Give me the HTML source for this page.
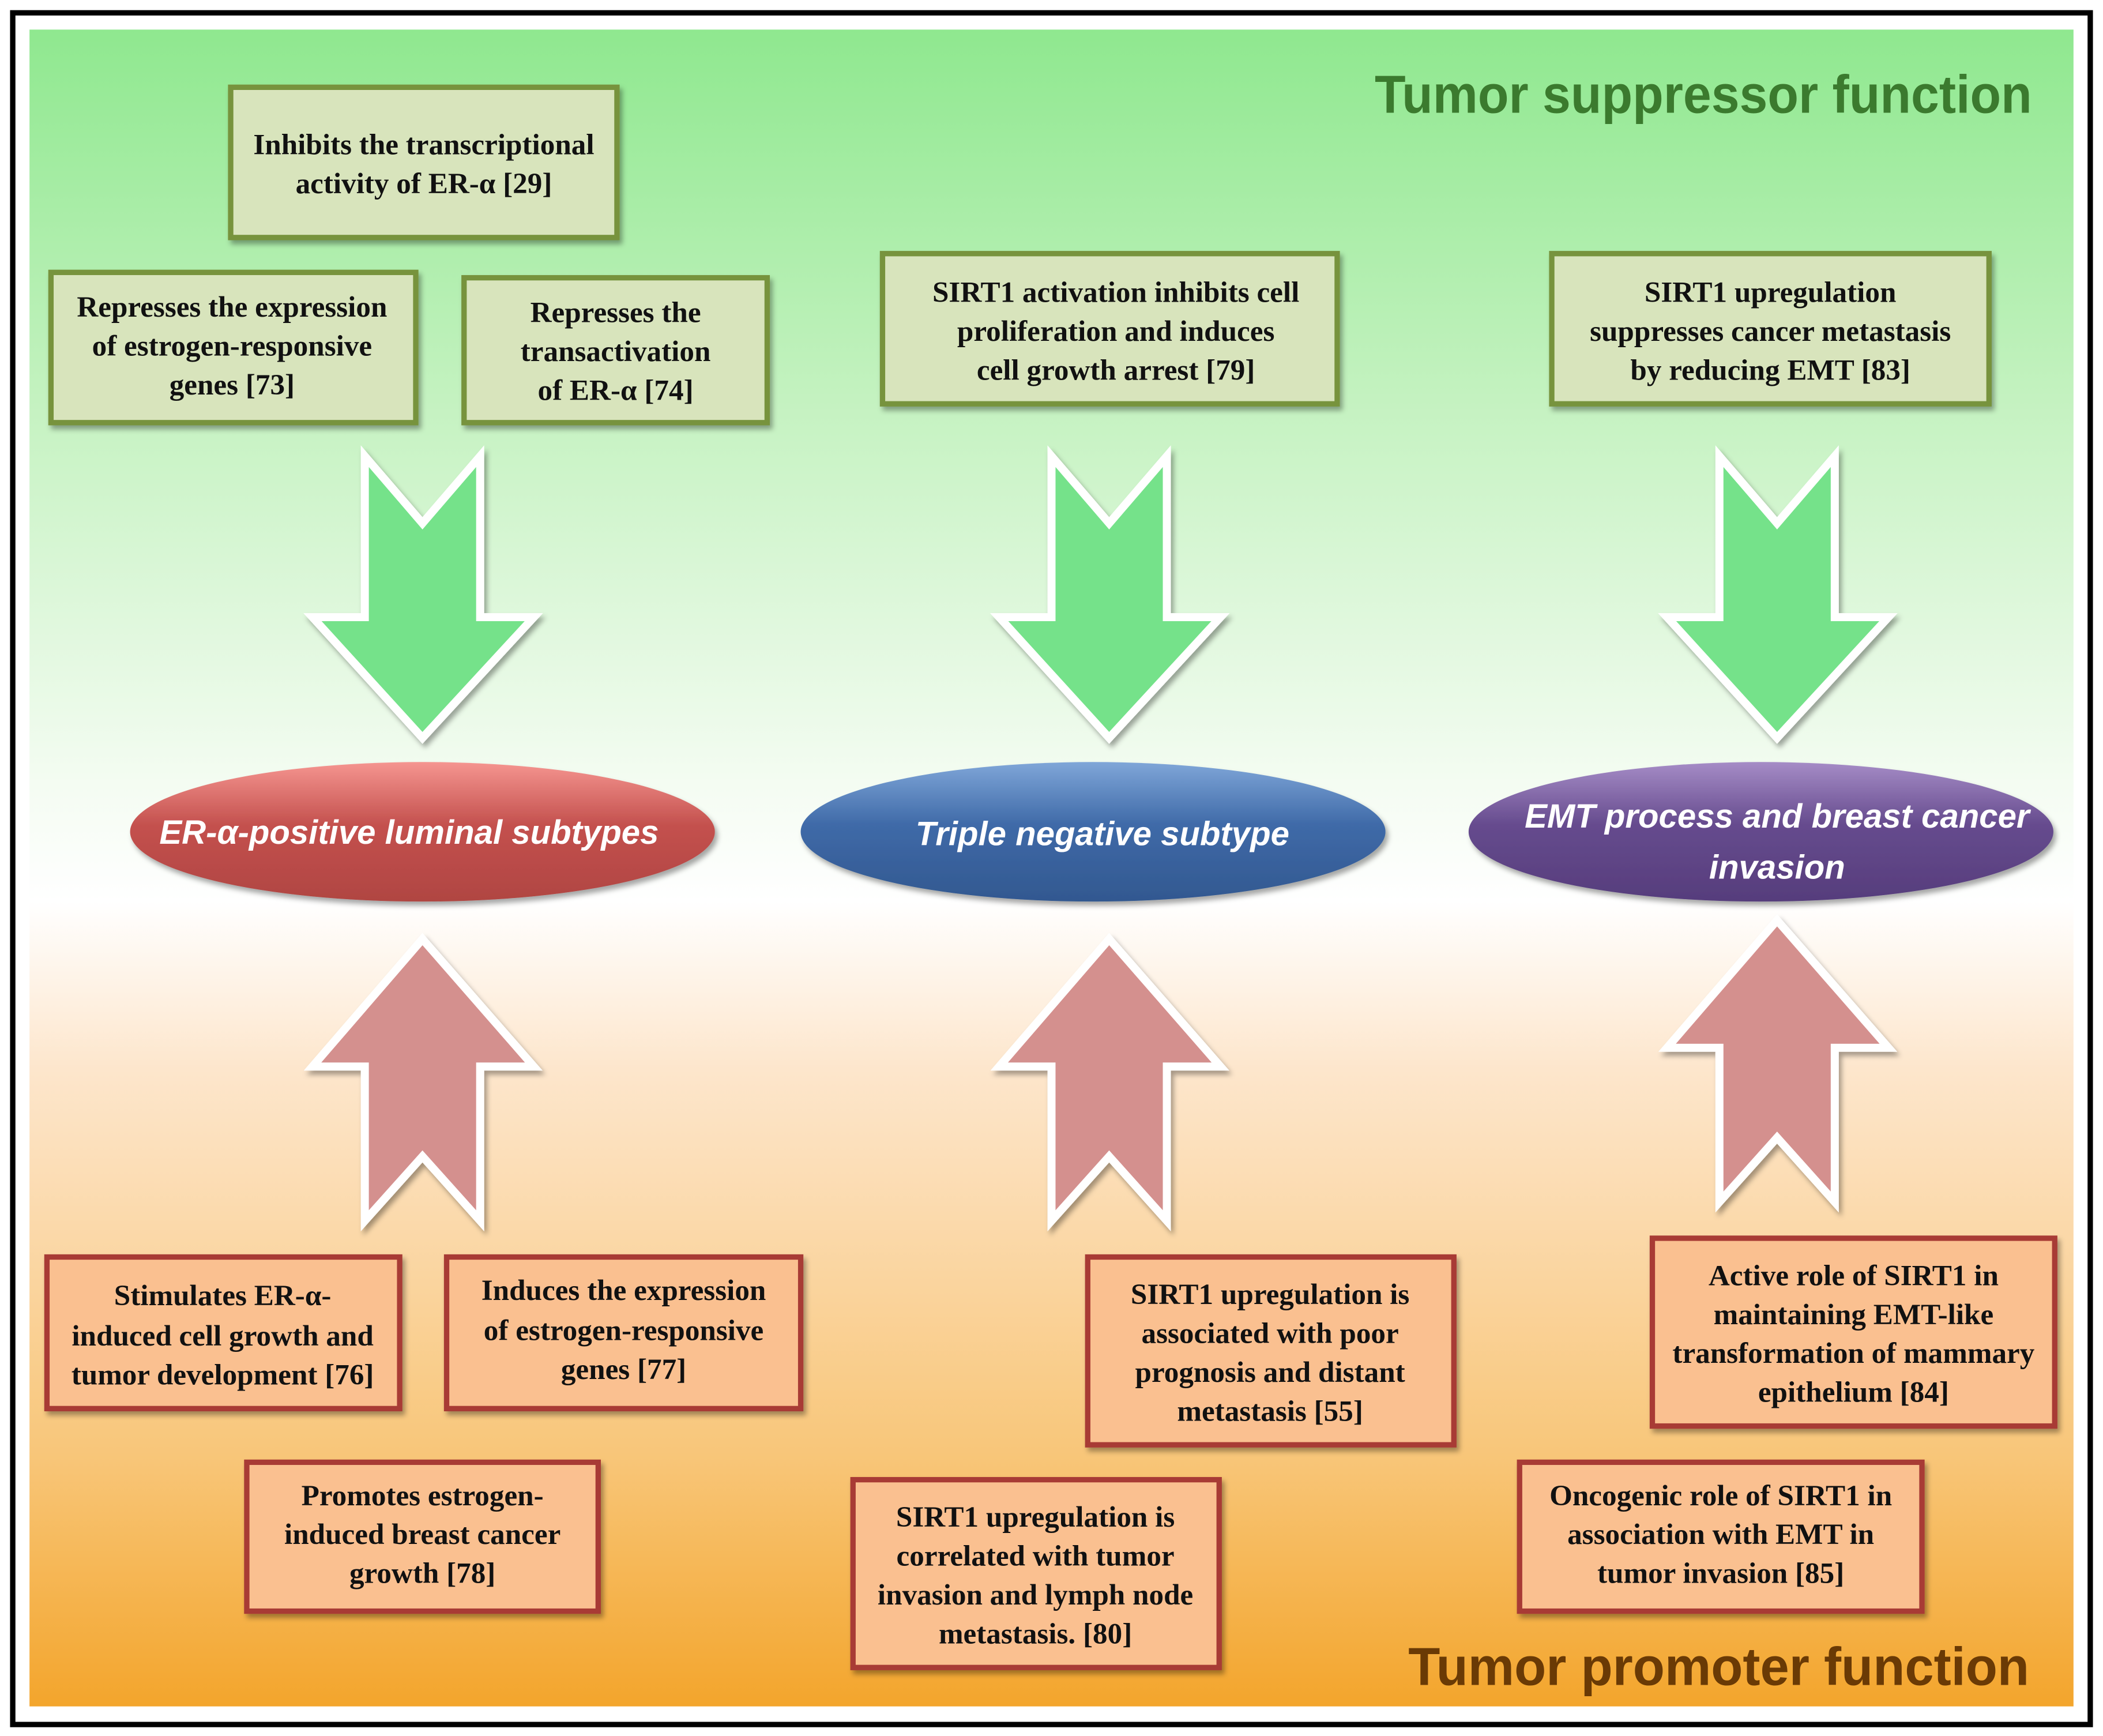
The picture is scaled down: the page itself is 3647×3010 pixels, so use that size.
<!DOCTYPE html>
<html><head><meta charset="utf-8"><style>html,body{margin:0;padding:0;background:#fff}svg{display:block}</style></head><body>
<svg width="3647" height="3010" viewBox="0 0 1568 1294" xmlns="http://www.w3.org/2000/svg">
<defs>
<linearGradient id="bg" x1="0" y1="0" x2="0" y2="1">
<stop offset="0" stop-color="#8fe88f"/>
<stop offset="0.22" stop-color="#c4f2c0"/>
<stop offset="0.45" stop-color="#f4fcf2"/>
<stop offset="0.52" stop-color="#ffffff"/>
<stop offset="0.62" stop-color="#fde6cc"/>
<stop offset="0.85" stop-color="#f8c679"/>
<stop offset="1" stop-color="#f3a52c"/>
</linearGradient>
<linearGradient id="er" x1="0" y1="0" x2="0" y2="1"><stop offset="0" stop-color="#f59590"/><stop offset="0.45" stop-color="#c4514e"/><stop offset="1" stop-color="#b04542"/></linearGradient>
<linearGradient id="tn" x1="0" y1="0" x2="0" y2="1"><stop offset="0" stop-color="#7fa6d8"/><stop offset="0.45" stop-color="#3f6aa8"/><stop offset="1" stop-color="#325890"/></linearGradient>
<linearGradient id="em" x1="0" y1="0" x2="0" y2="1"><stop offset="0" stop-color="#a58cc6"/><stop offset="0.45" stop-color="#664b8e"/><stop offset="1" stop-color="#563d7c"/></linearGradient>
<filter id="sh" x="-10%" y="-10%" width="130%" height="130%"><feDropShadow dx="2" dy="3" stdDeviation="2" flood-color="#000" flood-opacity="0.35"/></filter>
<g id="down"><path d="M272 340 L315 390 L358 340 L358 460 L398 460 L315 550 L233 460 L272 460 Z" fill="#74e28a" stroke="#fff" stroke-width="6" stroke-linejoin="miter" filter="url(#sh)"/></g>
<g id="up"><path d="M272 910 L315 862 L358 910 L358 795 L398 795 L315 700 L233 795 L272 795 Z" fill="#d4908e" stroke="#fff" stroke-width="6" filter="url(#sh)"/></g>
</defs>
<rect x="0" y="0" width="1568" height="1294" fill="#fff"/>
<rect x="9.5" y="9.5" width="1549" height="1276" fill="#fff" stroke="#000" stroke-width="4"/>
<rect x="22" y="22" width="1524" height="1250" fill="url(#bg)"/>
<g font-family="Liberation Sans, sans-serif" font-weight="bold">
<text x="1025" y="84" textLength="490" lengthAdjust="spacingAndGlyphs" font-size="40" fill="#3b7a2e">Tumor suppressor function</text>
<text x="1050" y="1256" textLength="463" lengthAdjust="spacingAndGlyphs" font-size="40" fill="#6a3a05">Tumor promoter function</text>
</g>
<use href="#down"/>
<use href="#down" transform="translate(512,0)"/>
<use href="#down" transform="translate(1010,0)"/>
<use href="#up"/>
<use href="#up" transform="translate(512,0)"/>
<use href="#up" transform="translate(1010,-14)"/>
<g filter="url(#sh)">
<ellipse cx="315" cy="620" rx="218" ry="52" fill="url(#er)"/>
<ellipse cx="815" cy="620" rx="218" ry="52" fill="url(#tn)"/>
<ellipse cx="1313" cy="620" rx="218" ry="52" fill="url(#em)"/>
</g>
<g font-family="Liberation Sans, sans-serif" font-weight="bold" font-style="italic" font-size="25" fill="#fff" text-anchor="middle">
<text x="305" y="629">ER-α-positive luminal subtypes</text>
<text x="822" y="630">Triple negative subtype</text>
<text x="1325" y="617">EMT process and breast cancer</text>
<text x="1325" y="655">invasion</text>
</g>
<g stroke="#77933c" stroke-width="4" fill="#d8e4bc" filter="url(#sh)">
<rect x="172" y="65" width="288" height="112"/>
<rect x="38" y="203" width="272" height="112"/>
<rect x="346" y="207" width="226" height="108"/>
<rect x="658" y="189" width="339" height="112"/>
<rect x="1157" y="189" width="326" height="112"/>
</g>
<g stroke="#a83b35" stroke-width="4" fill="#fac090" filter="url(#sh)">
<rect x="35" y="937" width="263" height="113"/>
<rect x="333" y="937" width="264" height="113"/>
<rect x="184" y="1090" width="262" height="111"/>
<rect x="811" y="937" width="273" height="140"/>
<rect x="636" y="1103" width="273" height="140"/>
<rect x="1232" y="923" width="300" height="140"/>
<rect x="1133" y="1090" width="300" height="111"/>
</g>
<g font-family="Liberation Serif, serif" font-weight="bold" font-size="22" fill="#111" text-anchor="middle">
<text x="316" y="115">Inhibits the transcriptional</text><text x="316" y="144">activity of ER-α [29]</text>
<text x="173" y="236">Represses the expression</text><text x="173" y="265">of estrogen-responsive</text><text x="173" y="294">genes [73]</text>
<text x="459" y="240">Represses the</text><text x="459" y="269">transactivation</text><text x="459" y="298">of ER-α [74]</text>
<text x="832" y="225">SIRT1 activation inhibits cell</text><text x="832" y="254">proliferation and induces</text><text x="832" y="283">cell growth arrest [79]</text>
<text x="1320" y="225">SIRT1 upregulation</text><text x="1320" y="254">suppresses cancer metastasis</text><text x="1320" y="283">by reducing EMT [83]</text>
<text x="166" y="973">Stimulates  ER-α-</text><text x="166" y="1003">induced cell growth and</text><text x="166" y="1032">tumor development [76]</text>
<text x="465" y="969">Induces the expression</text><text x="465" y="999">of estrogen-responsive</text><text x="465" y="1028">genes [77]</text>
<text x="315" y="1122">Promotes estrogen-</text><text x="315" y="1151">induced breast cancer</text><text x="315" y="1180">growth [78]</text>
<text x="947" y="972">SIRT1 upregulation is</text><text x="947" y="1001">associated with poor</text><text x="947" y="1030">prognosis and distant</text><text x="947" y="1059">metastasis [55]</text>
<text x="772" y="1138">SIRT1 upregulation is</text><text x="772" y="1167">correlated with tumor</text><text x="772" y="1196">invasion and lymph node</text><text x="772" y="1225">metastasis. [80]</text>
<text x="1382" y="958">Active role of SIRT1 in</text><text x="1382" y="987">maintaining EMT-like</text><text x="1382" y="1016">transformation of mammary</text><text x="1382" y="1045">epithelium [84]</text>
<text x="1283" y="1122">Oncogenic role of SIRT1 in</text><text x="1283" y="1151">association with EMT in</text><text x="1283" y="1180">tumor invasion [85]</text>
</g>
</svg>
</body></html>
